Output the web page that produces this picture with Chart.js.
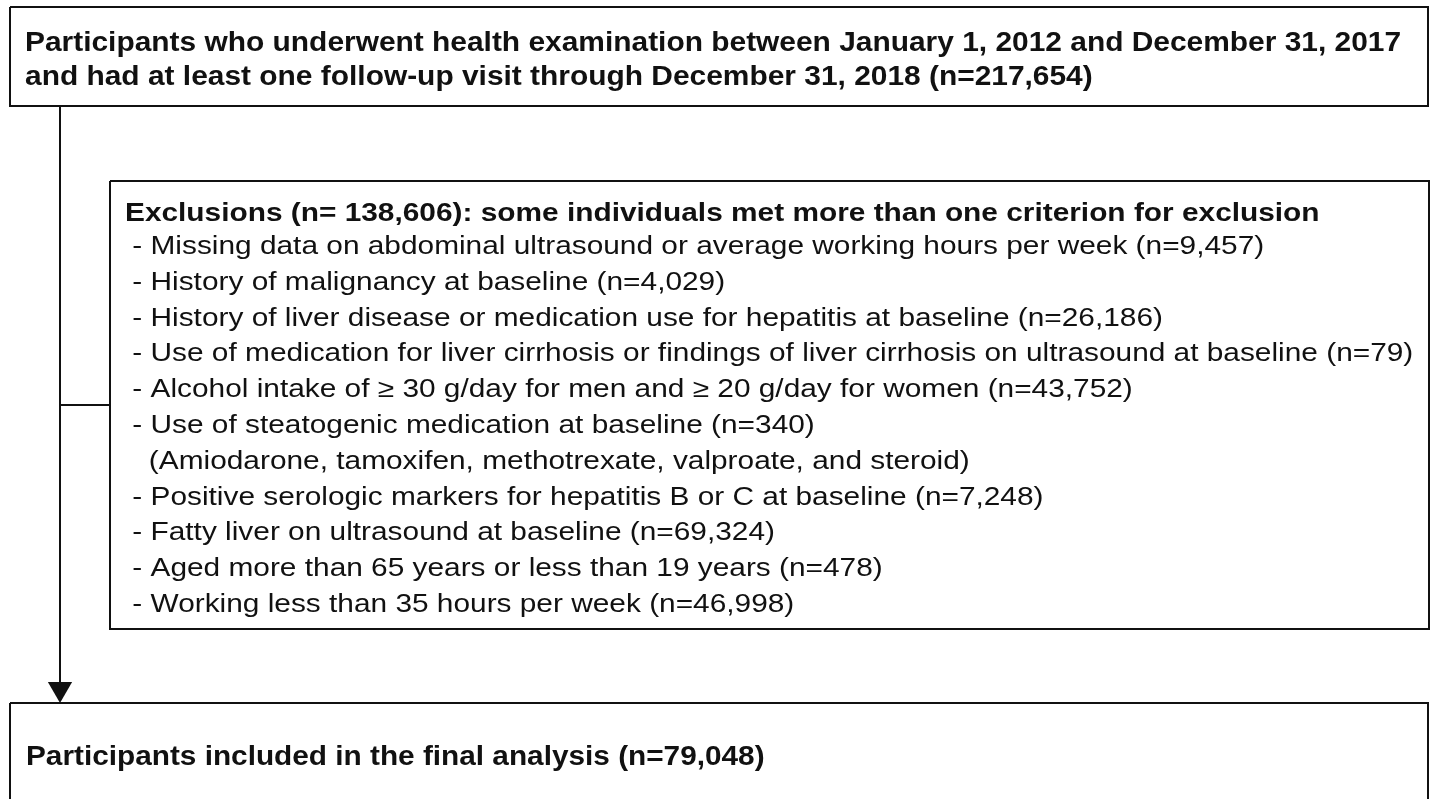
<!DOCTYPE html>
<html>
<head>
<meta charset="utf-8">
<script src="https://cdn.jsdelivr.net/npm/chart.js@4.4.1/dist/chart.umd.min.js"></script>
<style>
  html, body { margin: 0; padding: 0; background: #fff; }
  canvas { display: block; }
</style>
</head>
<body>
<canvas id="flow" width="1434" height="799"></canvas>
<script>
// Text of the flow diagram
const topBoxLines = [
    'Participants who underwent health examination between January 1, 2012 and December 31, 2017',
    'and had at least one follow-up visit through December 31, 2018 (n=217,654)'
];
const exclusionHeading = 'Exclusions (n= 138,606): some individuals met more than one criterion for exclusion';
const exclusionItems = [
    ' - Missing data on abdominal ultrasound or average working hours per week (n=9,457)',
    ' - History of malignancy at baseline (n=4,029)',
    ' - History of liver disease or medication use for hepatitis at baseline (n=26,186)',
    ' - Use of medication for liver cirrhosis or findings of liver cirrhosis on ultrasound at baseline (n=79)',
    ' - Alcohol intake of \u2265 30 g/day for men and \u2265 20 g/day for women (n=43,752)',
    ' - Use of steatogenic medication at baseline (n=340)',
    '   (Amiodarone, tamoxifen, methotrexate, valproate, and steroid)',
    ' - Positive serologic markers for hepatitis B or C at baseline (n=7,248)',
    ' - Fatty liver on ultrasound at baseline (n=69,324)',
    ' - Aged more than 65 years or less than 19 years (n=478)',
    ' - Working less than 35 hours per week (n=46,998)'
];
const finalBoxLines = ['Participants included in the final analysis (n=79,048)'];

// Layout (page pixels, mapped through the chart's x / y scales)
const W = 1434, H = 799;
const topBox = { x0: 10, y0: 7, x1: 1428, y1: 106 };
const exclBox = { x0: 110, y0: 181, x1: 1429, y1: 629 };
const finalBox = { x0: 10, y0: 703, x1: 1428, y1: 812 };
const trunkX = 60;
const branchY = 405;
const ink = '#111';
const fontFamily = '"Liberation Sans", Arial, Helvetica, sans-serif';

function rect(b) {
    return [
        { x: b.x0, y: b.y0 }, { x: b.x1, y: b.y0 },
        { x: b.x1, y: b.y1 }, { x: b.x0, y: b.y1 }, { x: b.x0, y: b.y0 }
    ];
}

function lineSet(points) {
    return {
        type: 'line',
        data: points,
        borderColor: ink,
        borderWidth: 2,
        pointRadius: 0,
        tension: 0,
        fill: false
    };
}

// Writes the box texts, using the scales to place them.
// The source image is a little wider than tall, so glyphs get stretched.
const textPlugin = {
    id: 'flowText',
    afterDatasetsDraw(chart) {
        const ctx = chart.ctx;
        const sx = chart.scales.x, sy = chart.scales.y;
        const put = (txt, x, y, bold, size, stretch) => {
            ctx.save();
            ctx.font = (bold ? 'bold ' : '') + size + 'px ' + fontFamily;
            ctx.translate(sx.getPixelForValue(x), sy.getPixelForValue(y));
            ctx.scale(stretch, 1);
            ctx.fillText(txt, 0, 0);
            ctx.restore();
        };
        ctx.save();
        ctx.fillStyle = ink;
        ctx.textBaseline = 'alphabetic';
        ctx.textAlign = 'left';
        topBoxLines.forEach((t, i) => put(t, 25, 51 + i * 34, true, 28, 1.068));
        put(exclusionHeading, 125, 221, true, 25.5, 1.17);
        exclusionItems.forEach((t, i) => put(t, 124, 254 + i * 35.8, false, 25.5, 1.17));
        finalBoxLines.forEach((t, i) => put(t, 26, 765 + i * 34, true, 28, 1.063));
        ctx.restore();
    }
};

new Chart(document.getElementById('flow'), {
    type: 'scatter',
    data: {
        datasets: [
            lineSet(rect(topBox)),
            lineSet(rect(exclBox)),
            lineSet(rect(finalBox)),
            lineSet([{ x: trunkX, y: topBox.y1 }, { x: trunkX, y: finalBox.y0 - 6 }]),
            lineSet([{ x: trunkX, y: branchY }, { x: exclBox.x0, y: branchY }]),
            {
                // arrow head
                type: 'scatter',
                data: [{ x: trunkX, y: finalBox.y0 - 14 }],
                pointStyle: 'triangle',
                rotation: 180,
                pointRadius: 14,
                backgroundColor: ink,
                borderColor: ink,
                borderWidth: 0
            }
        ]
    },
    options: {
        responsive: false,
        animation: false,
        events: [],
        layout: { padding: 0, autoPadding: false },
        plugins: {
            legend: { display: false },
            tooltip: { enabled: false },
            title: { display: false }
        },
        scales: {
            x: { type: 'linear', min: 0, max: W, display: false },
            y: { type: 'linear', min: 0, max: H, reverse: true, display: false }
        }
    },
    plugins: [textPlugin]
});
</script>
</body>
</html>
